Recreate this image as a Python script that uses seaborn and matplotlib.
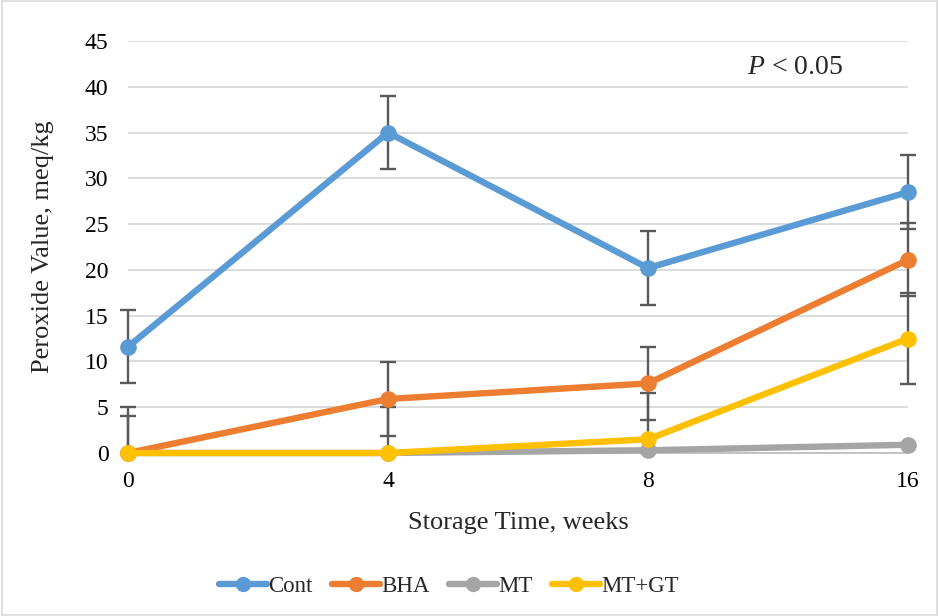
import numpy as np
import pandas as pd
import seaborn as sns
import matplotlib.pyplot as plt
from matplotlib.patches import Rectangle

# Storage weeks (equally spaced categories) and peroxide values per treatment
weeks = ["0", "4", "8", "16"]
cont = [11.6, 35.0, 20.2, 28.5]
bha = [0.0, 5.9, 7.6, 21.1]
mt = [0.0, 0.0, 0.3, 0.9]
mt_gt = [0.0, 0.0, 1.5, 12.5]

# Error bar half-widths per treatment
cont_err = [4.0, 4.0, 4.0, 4.0]
bha_err = [4.0, 4.0, 4.0, 4.0]
mt_err = [0.1, 0.1, 0.1, 0.1]
mt_gt_err = [5.0, 5.0, 5.0, 5.0]

series = ["Cont", "BHA", "MT", "MT+GT"]
colors = ["#5B9BD5", "#ED7D31", "#A5A5A5", "#FFC000"]

pos = np.arange(len(weeks))
df = pd.DataFrame({
    "pos": np.tile(pos, 4),
    "value": cont + bha + mt + mt_gt,
    "err": cont_err + bha_err + mt_err + mt_gt_err,
    "group": np.repeat(series, len(weeks)),
})

sns.set_theme(style="white")
plt.rcParams["font.family"] = ["Liberation Serif", "DejaVu Serif"]
plt.rcParams["mathtext.fontset"] = "custom"
plt.rcParams["mathtext.rm"] = "Liberation Serif"
plt.rcParams["mathtext.it"] = "Liberation Serif:italic"

fig = plt.figure(figsize=(9.39, 6.16), dpi=100)
ax = fig.add_axes([128 / 939, 1 - 453 / 616, 780 / 939, 412 / 616])

# Error bars sit beneath the lines and markers
for name, col in zip(series, colors):
    sub = df[df["group"] == name]
    lower = np.minimum(sub["err"].values, sub["value"].values)
    ax.errorbar(sub["pos"], sub["value"], yerr=[lower, sub["err"].values],
                fmt="none", ecolor="#595959", elinewidth=1.7, capsize=5.5,
                capthick=1.7, zorder=2, clip_on=False)

sns.lineplot(data=df, x="pos", y="value", hue="group", hue_order=series,
             palette=colors, linewidth=4.6, marker="o", markersize=12,
             markeredgewidth=0, ax=ax, zorder=3, legend=False, clip_on=False)

ax.set_xlim(0, 3)
ax.set_ylim(0, 45)
ax.set_yticks(np.arange(0, 46, 5))
ax.set_xticks(pos)
ax.set_xticklabels(weeks)
ax.tick_params(axis="y", labelsize=17, colors="black", length=0, pad=14)
ax.tick_params(axis="x", labelsize=17, colors="black", length=0, pad=13)
ax.grid(axis="y", color="#D9D9D9", linewidth=1.3, zorder=0)
ax.set_axisbelow(True)
for side in ["top", "right", "left"]:
    ax.spines[side].set_visible(False)
ax.spines["bottom"].set_color("#BFBFBF")
ax.spines["bottom"].set_linewidth(1.3)

ax.set_xlabel("Storage Time, weeks", fontsize=19, labelpad=14)
ax.set_ylabel("Peroxide Value, meq/kg", fontsize=19, labelpad=22)

ax.text(0.855, 0.935, r"$\mathit{P}$ < 0.05", transform=ax.transAxes, fontsize=20,
        ha="center", va="center")

handles = [plt.Line2D([0], [0], color=c, linewidth=4.6, marker="o", markersize=11,
                      markeredgewidth=0) for c in colors]
fig.legend(handles, series, loc="center", bbox_to_anchor=(0.478, 1 - 586 / 616),
           ncol=4, frameon=False, fontsize=16.5, handlelength=2.1,
           columnspacing=0.85, handletextpad=0.05)

fig.patches.append(Rectangle((0.002, 0.002), 0.996, 0.996, transform=fig.transFigure,
                             fill=False, edgecolor="#D9D9D9", linewidth=1.2))

fig.savefig("out.png", dpi=100)
